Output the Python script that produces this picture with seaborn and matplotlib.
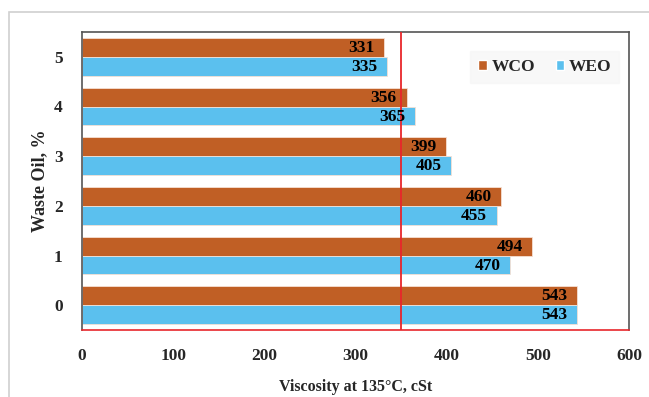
import matplotlib
matplotlib.use("Agg")
import matplotlib.pyplot as plt
import seaborn as sns
import pandas as pd
from matplotlib.patches import Rectangle, Patch

categories = ["5", "4", "3", "2", "1", "0"]
wco = [331, 356, 399, 460, 494, 543]
weo = [335, 365, 405, 455, 470, 543]
series = ["WCO", "WEO"]
colors = {"WCO": "#C05F25", "WEO": "#5BC0EE"}
xticks = [0, 100, 200, 300, 400, 500, 600]
limit = 350

df = pd.DataFrame({
    "cat": categories * 2,
    "val": wco + weo,
    "series": ["WCO"] * len(wco) + ["WEO"] * len(weo),
})

sns.set_theme(style="white")
plt.rcParams["font.family"] = ["Liberation Serif", "DejaVu Serif"]
plt.rcParams["font.weight"] = "bold"

fig = plt.figure(figsize=(6.49, 3.97), dpi=100)
ax = fig.add_axes([82/649, 1-330/397, (629-82)/649, (330-32)/397])

sns.barplot(data=df, y="cat", x="val", hue="series", order=categories,
            hue_order=series, palette=colors, orient="h", width=0.76,
            saturation=1, ax=ax, legend=False, edgecolor="#f5e0d3", linewidth=0.6)

for cont in ax.containers:
    for p in cont.patches:
        w = p.get_width()
        yc = p.get_y() + p.get_height() / 2
        ax.annotate(f"{w:.0f}", (w, yc), xytext=(-7, -0.5), textcoords="offset points",
                    ha="right", va="center", fontsize=12.5, fontweight="bold",
                    color="black", zorder=6)

ax.axvline(limit, color="#E8262B", lw=1.3, zorder=5)
ax.set_xlim(0, 600)
ax.set_xticks(xticks)
ax.set_xticklabels([str(t) for t in xticks], fontsize=12.5, fontweight="bold")
ax.set_yticklabels(categories, fontsize=12.5, fontweight="bold")
ax.tick_params(axis="x", direction="in", length=5, color="#E8262B", pad=13, width=1)
ax.tick_params(axis="y", length=0, pad=14)
ax.set_xlabel("Viscosity at 135°C, cSt", fontsize=11.5, fontweight="bold", labelpad=11)
ax.set_ylabel("Waste Oil, %", fontsize=13, fontweight="bold", labelpad=4)

for s in ["top", "left", "right"]:
    ax.spines[s].set_color("#555555")
    ax.spines[s].set_linewidth(1.2)
ax.spines["bottom"].set_color("#E8262B")
ax.spines["bottom"].set_linewidth(1.2)

handles = [Patch(facecolor=colors[s], label=s) for s in series]
leg = ax.legend(handles=handles, loc="upper right", bbox_to_anchor=(0.998, 0.965),
                ncol=2, frameon=True, fancybox=False, fontsize=12.5,
                handlelength=0.5, handleheight=0.5, handletextpad=0.25,
                columnspacing=1.2, borderpad=0.45)
leg.get_frame().set_facecolor("#F7F7F7")
leg.get_frame().set_edgecolor("#F7F7F7")
for t in leg.get_texts():
    t.set_fontweight("bold")

fig.patches.append(Rectangle((9/649, -0.1), 2, (397-12)/397 + 0.1,
                             transform=fig.transFigure, fill=False,
                             edgecolor="#D0D0D0", lw=1.2, zorder=0))

fig.savefig("out.png", dpi=100)
